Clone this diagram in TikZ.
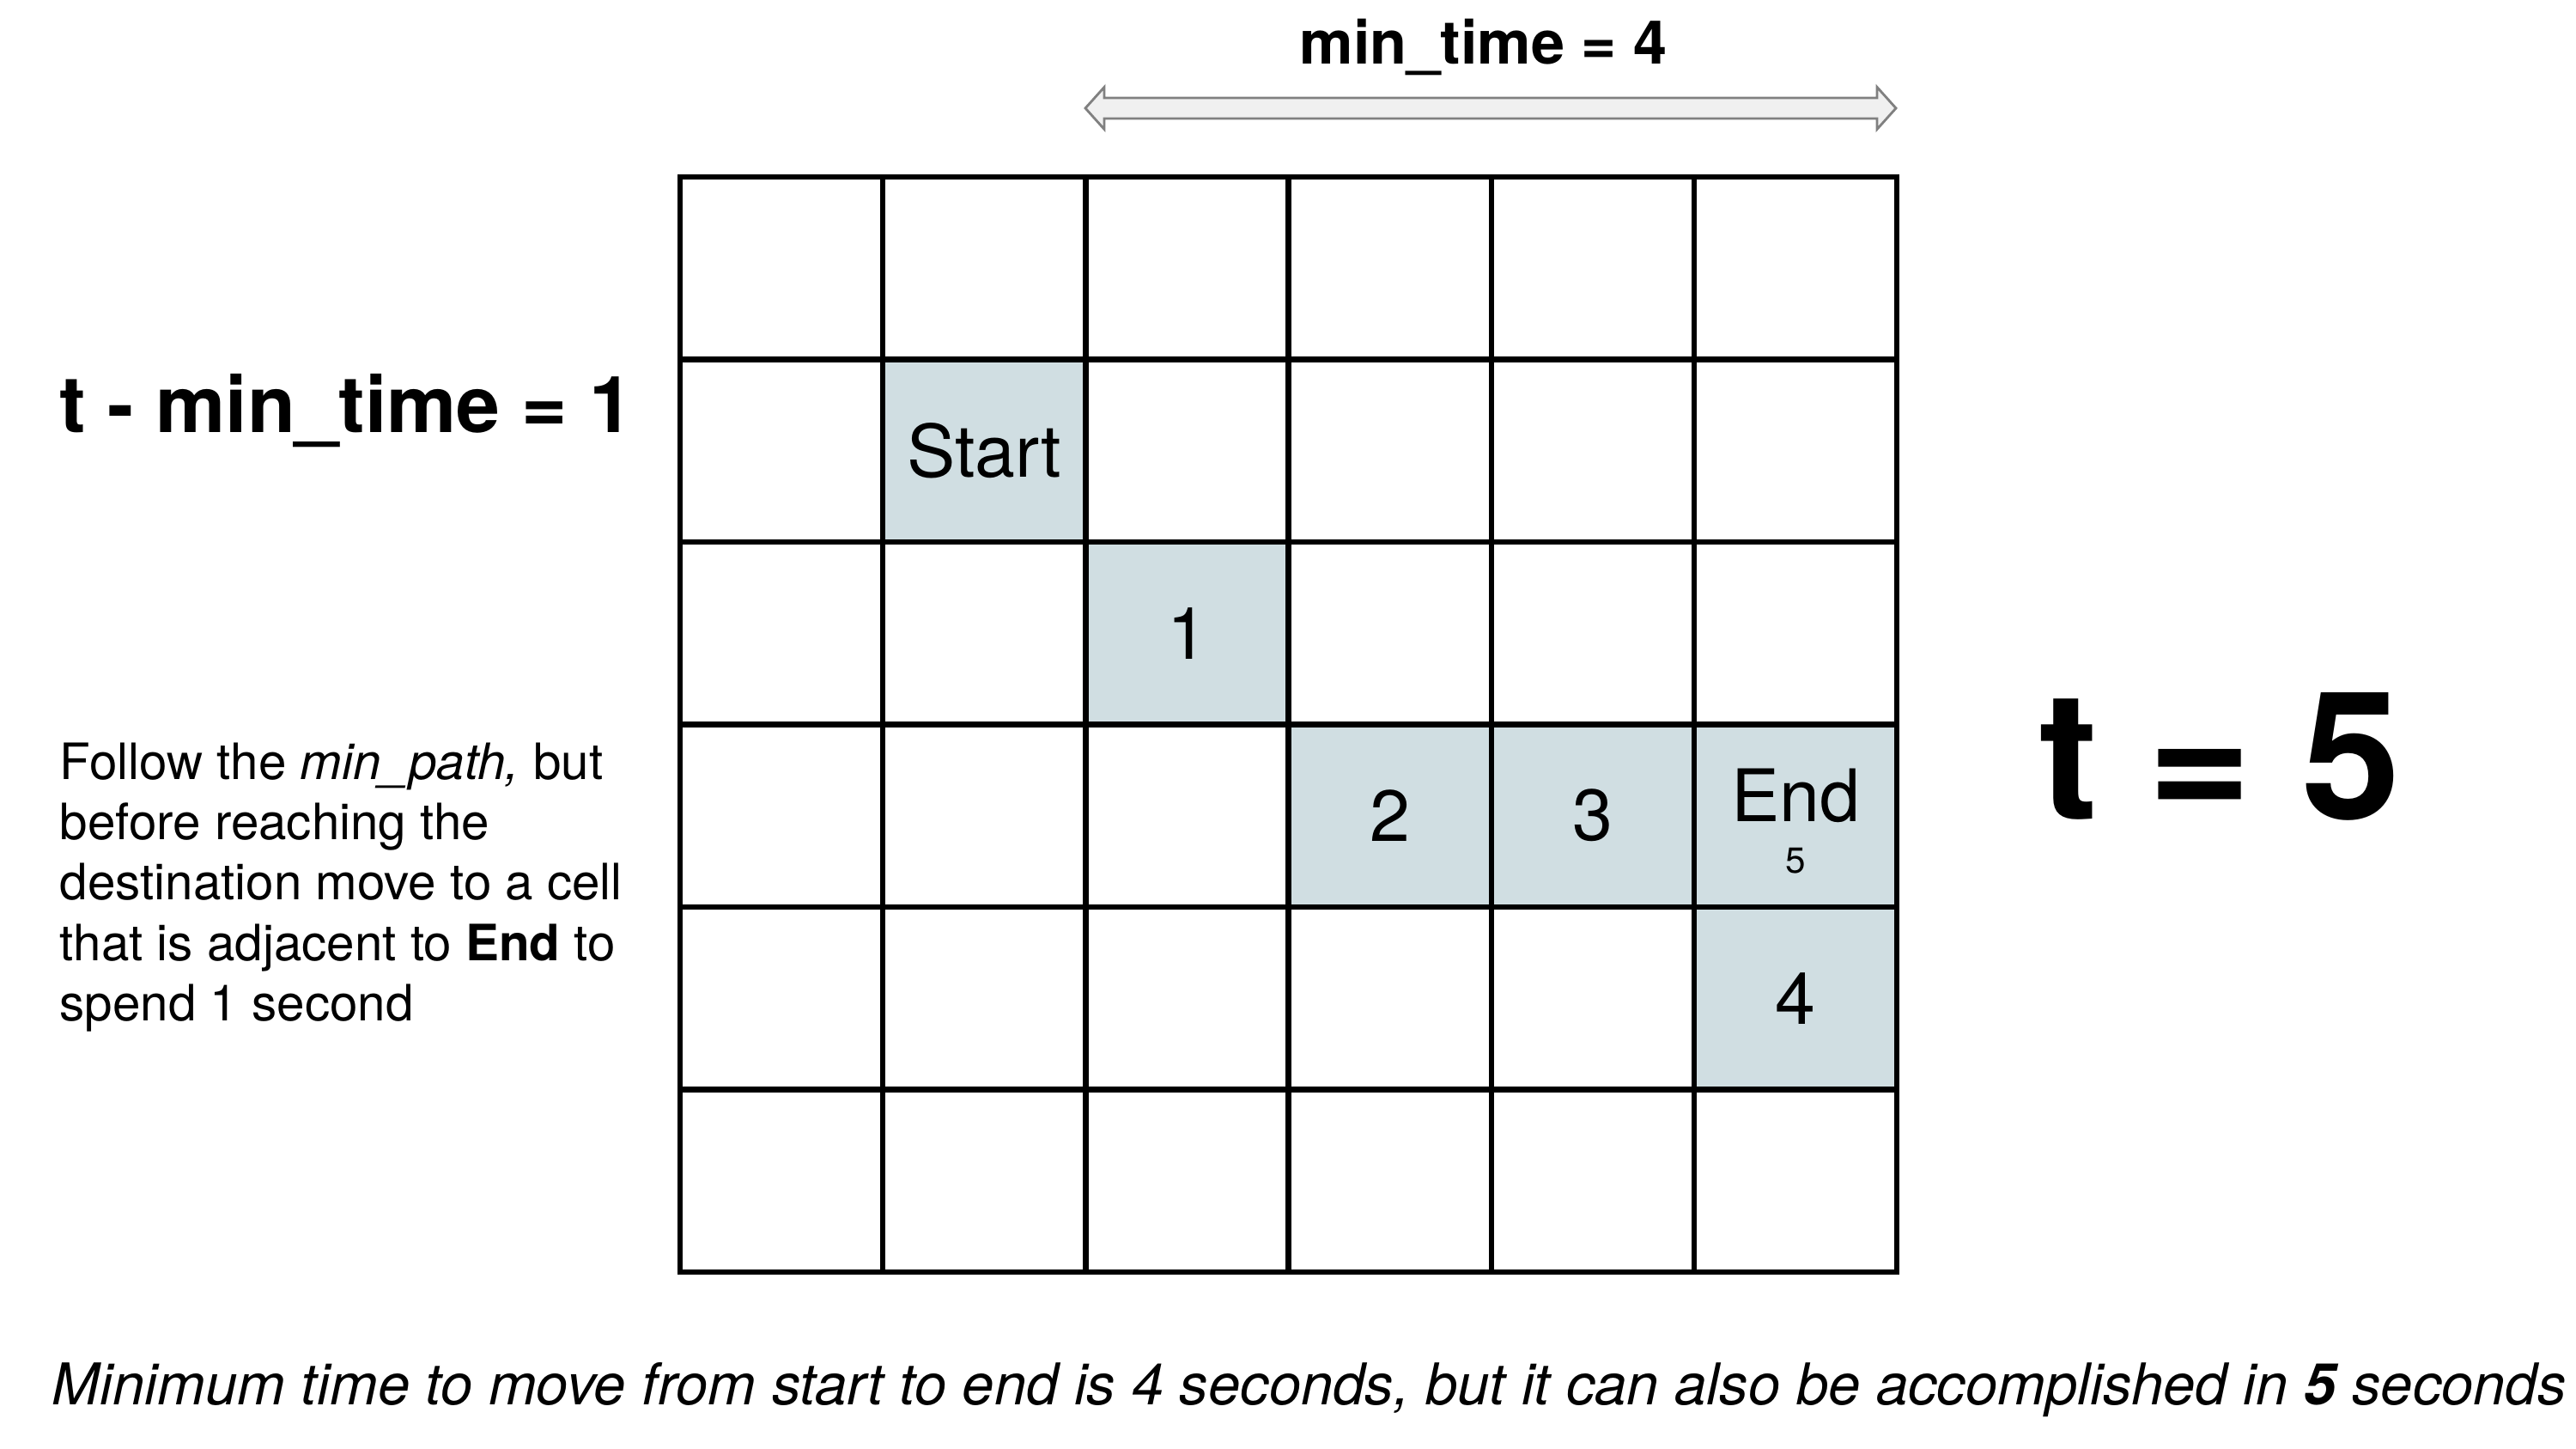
\documentclass[tikz,border=0pt]{standalone}
\usepackage{fontspec}
\setmainfont{TeX Gyre Heros}
\usetikzlibrary{positioning}

\definecolor{pathcell}{RGB}{208,222,226}
\definecolor{arrowline}{RGB}{128,128,128}
\definecolor{arrowfill}{RGB}{240,240,240}

\tikzset{
  cell/.style={draw=gray!60,line width=0.6pt,fill=pathcell,minimum width=2.362cm,minimum height=2.125cm,inner sep=0pt,outer sep=0pt,font=\fontsize{24}{28}\selectfont},
  gridline/.style={line width=1.85pt,line cap=rect},
  bigtitle/.style={inner sep=0pt,anchor=base west,font=\bfseries\fontsize{26}{30}\selectfont}
}

\begin{document}
\begin{tikzpicture}
\useasboundingbox[fill=white] (0,0) rectangle (30,16.87);
% cells on the path
\node[cell] (start) at (11.463,11.6225) {Start};
\node[cell,below right=0pt of start] (s1) {1};
\node[cell,below right=0pt of s1] (s2) {2};
\node[cell,right=0pt of s2] (s3) {3};
\node[cell,right=0pt of s3] (end) {};
\node[cell,below=0pt of end] (s4) {4};
\node[anchor=base,inner sep=0pt,font=\fontsize{24}{28}\selectfont] (endtxt) at ([yshift=-0.07cm]end.center) {End};
\node[anchor=base,inner sep=0pt,font=\fontsize{12}{14}\selectfont] (endtime) at ([yshift=-0.67cm]end.center) {5};
% grid
\foreach \i in {0,...,6}{
  \draw[gridline] (7.92+\i*2.362,2.06) -- (7.92+\i*2.362,14.81);
  \draw[gridline] (7.92,2.06+\i*2.125) -- (22.092,2.06+\i*2.125);
}
% min time arrow
\coordinate (al) at (12.64,15.61);
\coordinate (ar) at (22.08,15.61);
\draw[arrowline,fill=arrowfill,line width=0.8pt,line join=miter]
  (al) -- ++(0.22,0.245) -- ++(0,-0.125) -- ([xshift=-0.22cm,yshift=0.12cm]ar) -- ++(0,0.125) -- (ar)
  -- ++(-0.22,-0.245) -- ++(0,0.125) -- ([xshift=0.22cm,yshift=-0.12cm]al) -- ++(0,-0.125) -- cycle;
\node[inner sep=0pt,anchor=base,font=\bfseries\fontsize{20}{24}\selectfont] (mintime) at (17.275,16.12) {min\_time = 4};
% texts on the left and right
\node[bigtitle] (diff) at (0.69,11.83) {t - min\_time = 1};
\node[inner sep=0pt,anchor=north west,align=left,font=\fontsize{16.6}{20}\selectfont] (hint) at (0.69,8.23)
  {Follow the \textit{min\_path,} but\\before reaching the\\destination move to a cell\\that is adjacent to \textbf{End} to\\spend 1 second};
\node[inner sep=0pt,anchor=base west,font=\bfseries\fontsize{59}{66}\selectfont] (total) at (23.74,7.33) {t = 5};
\node[inner sep=0pt,anchor=base west,font=\itshape\fontsize{19.05}{22}\selectfont] (note) at (0.60,0.51)
  {Minimum time to move from start to end is 4 seconds, but it can also be accomplished in \textbf{5} seconds};
\end{tikzpicture}
\end{document}
